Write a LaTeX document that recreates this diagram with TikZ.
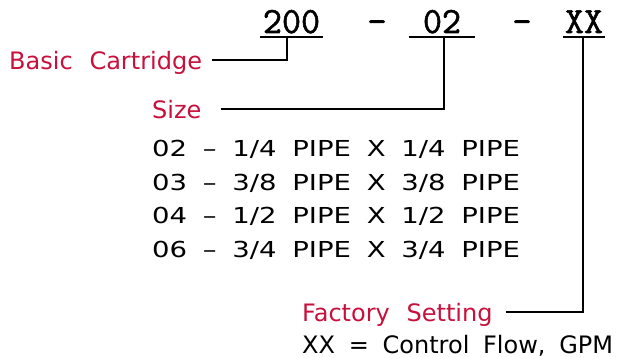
\documentclass[tikz,border=0pt]{standalone}
\usepackage{fontspec}
\setmainfont{DejaVu Sans}[WordSpace=2.2]
\setmonofont{Latin Modern Mono}[FakeBold=1.5]
\newfontfamily\notefont{DejaVu Sans}[WordSpace=1.8]
\newfontfamily\listfont{DejaVu Sans}[FakeStretch=1.25,WordSpace=1.8]
\usetikzlibrary{positioning}
\definecolor{labelred}{RGB}{200,16,60}

\begin{document}
\begin{tikzpicture}[
  x=1pt, y=-1pt,
  conn/.style={draw, line width=2pt},
  code/.style={font=\ttfamily\fontsize{37}{37}\selectfont, inner xsep=0pt,
               inner ysep=4pt, text height=23pt, text depth=0pt, anchor=base},
  lbl/.style={font=\fontsize{24}{24}\selectfont, text=labelred, inner sep=0pt,
              text height=19pt, text depth=0pt, anchor=base west},
  note/.style={lbl, font=\notefont\fontsize{24}{24}\selectfont, text=black},
  row/.style={font=\listfont\fontsize{22}{22}\selectfont, inner sep=0pt,
              anchor=base west},
]
\useasboundingbox (0,0) rectangle (623,358);
% Part number
\node[code, minimum width=63pt] (c200) at (291.5,33) {200};
\node[code] (dash1) at (377,33) {–};
\node[code, minimum width=66pt] (c02) at (442,33) {02};
\node[code] (dash2) at (522,33) {–};
\node[code, minimum width=42pt] (cXX) at (584,33) {XX};
\draw[conn] (c200.south west) -- (c200.south east);
\draw[conn] (c02.south west) -- (c02.south east);
\draw[conn] (cXX.south west) -- (cXX.south east);
% Labels
\node[lbl] (basic) at (9,69.5) {Basic Cartridge};
\node[lbl] (size) at (152,118.5) {Size};
\node[lbl] (factory) at (302,321.5) {Factory Setting};
\node[note] (flow) at (302,353) {XX = Control Flow, GPM};
% Size list
\node[row] (r02) at (152,157) {02 – 1/4 PIPE X 1/4 PIPE};
\node[row] (r03) at (152,190) {03 – 3/8 PIPE X 3/8 PIPE};
\node[row] (r04) at (152,223.5) {04 – 1/2 PIPE X 1/2 PIPE};
\node[row] (r06) at (152,257) {06 – 3/4 PIPE X 3/4 PIPE};
% Leaders
\draw[conn, shorten <=10pt] (basic.east) -| ([xshift=-4.5pt]c200.south);
\draw[conn, shorten <=19pt] (size.east) -| ([xshift=2pt]c02.south);
\draw[conn, shorten <=13pt] (factory.east) -| ([xshift=-1pt]cXX.south);
\end{tikzpicture}
\end{document}
